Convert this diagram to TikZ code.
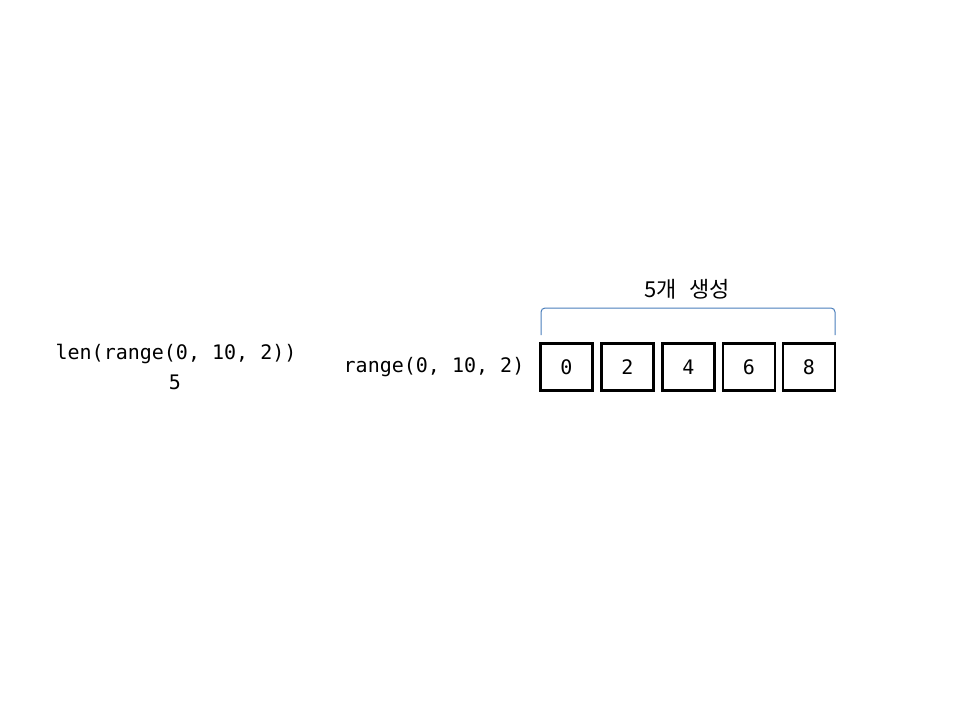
\documentclass[tikz,border=0pt]{standalone}
\usepackage{fontspec}
\setmonofont{DejaVu Sans Mono}
\newfontfamily\kofont{Noto Sans CJK KR}
\usepackage{tikz}
\definecolor{braceblue}{RGB}{74,126,187}
\tikzset{
    every node/.style={inner sep=0pt, font=\ttfamily\fontsize{20}{24}\selectfont}
}
\tikzset{
    cell/.style={draw, line width=2.5pt, minimum width=52pt, minimum height=47pt}
}
\tikzset{
    brace/.style={draw=braceblue, line width=1pt, rounded corners=4pt}
}

\begin{document}
\begin{tikzpicture}[x=1pt,y=-1pt]
	\useasboundingbox (0,0) rectangle (960,720);
	\node (len) at (176,354) {len(range(0, 10, 2))};
	\node (res) at (175,382) {5};
	\node (rng) at (434,367) {range(0, 10, 2)};
	
	\node (c0) [cell] at (566.5,367) {0};
	\node (c1) [cell] at (627.5,367) {2};
	\node (c2) [cell] at (688.5,367) {4};
	\node (c3) [cell] at (749,367) {6};
	\node (c4) [cell] at (809,367) {8};
	
	\coordinate (bl) at (541,335);
	\coordinate (br) at (835,335);
	\coordinate (bt) at (688,308);
	\draw[brace] (bl) |- (bt) -| (br);
	\node (cnt) [font=\kofont\fontsize{22}{26}\selectfont] at (687,289) {5개\hspace{8pt} 생성};
\end{tikzpicture}
\end{document}
